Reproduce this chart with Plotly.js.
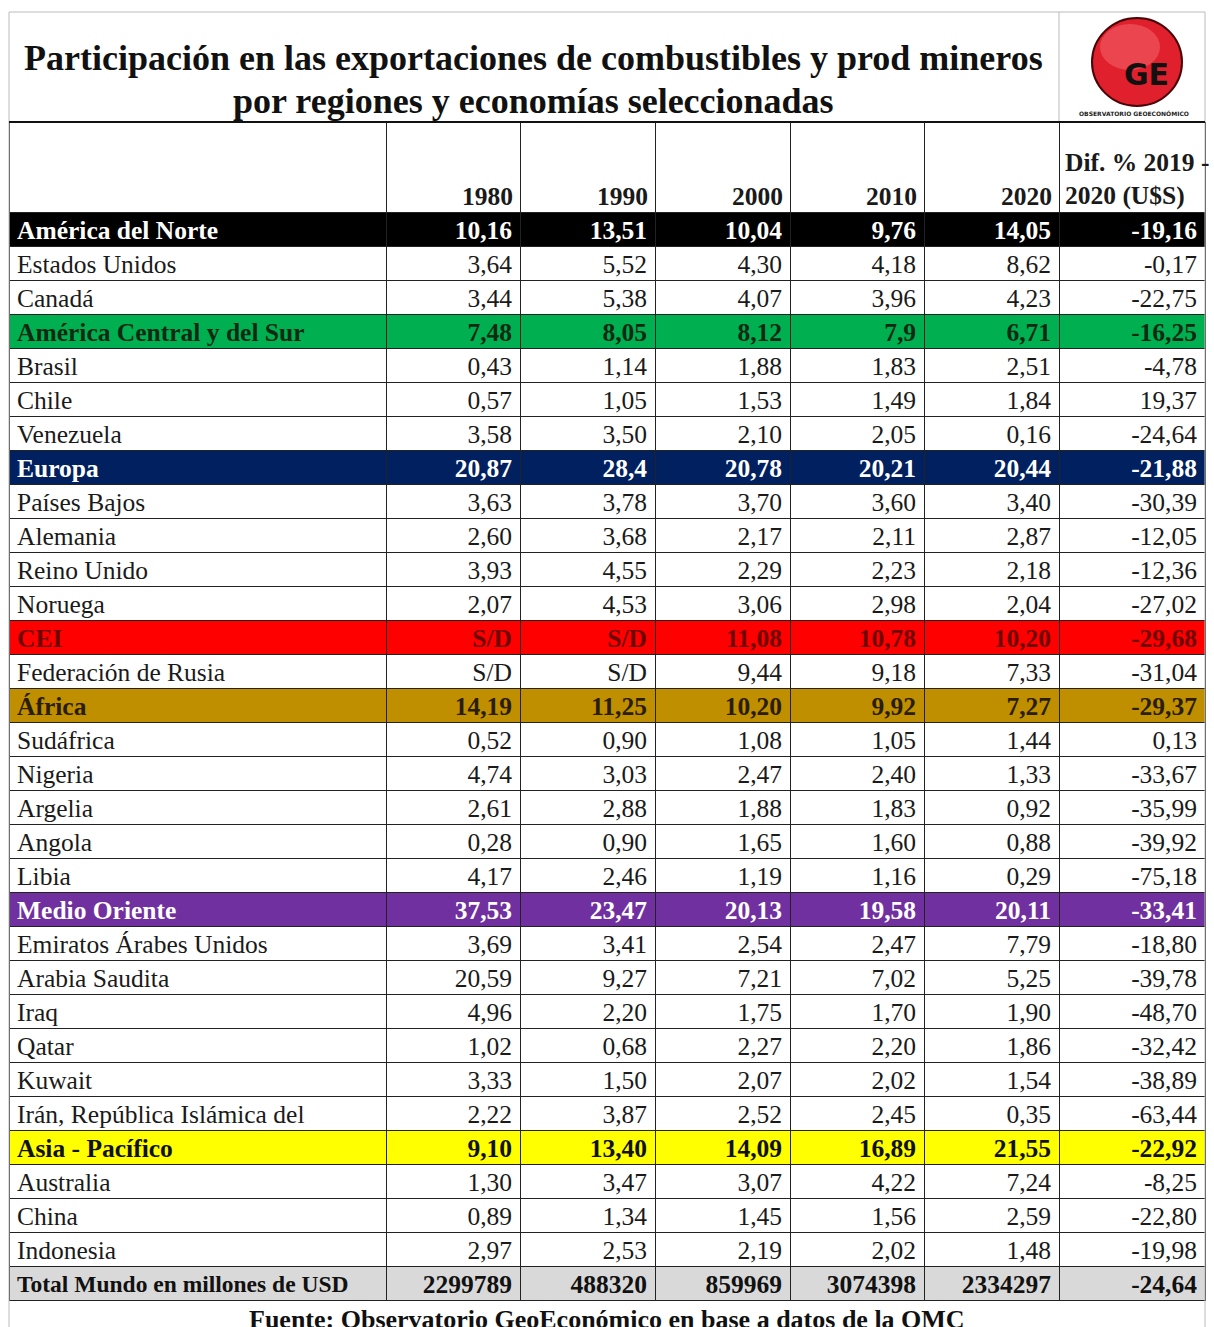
<!DOCTYPE html>
<html>
<head>
<meta charset="utf-8">
<script src="https://cdn.plot.ly/plotly-3.0.1.min.js"></script>
<style>html,body{margin:0;padding:0;background:#fff;}#chart{width:1214px;height:1327px;}</style>
</head>
<body>
<div id="chart"></div>
<script>
// ---------- DATA ----------
const years = ["1980", "1990", "2000", "2010", "2020"];
const difHeader = ["Dif. % 2019 -", "2020 (U$S)"];
const labels = ["América del Norte","Estados Unidos","Canadá","América Central y del Sur","Brasil","Chile","Venezuela","Europa","Países Bajos","Alemania","Reino Unido","Noruega","CEI","Federación de Rusia","África","Sudáfrica","Nigeria","Argelia","Angola","Libia","Medio Oriente","Emiratos Árabes Unidos","Arabia Saudita","Iraq","Qatar","Kuwait","Irán, República Islámica del","Asia - Pacífico","Australia","China","Indonesia","Total Mundo en millones de USD"];
const v1980 = ["10,16","3,64","3,44","7,48","0,43","0,57","3,58","20,87","3,63","2,60","3,93","2,07","S/D","S/D","14,19","0,52","4,74","2,61","0,28","4,17","37,53","3,69","20,59","4,96","1,02","3,33","2,22","9,10","1,30","0,89","2,97","2299789"];
const v1990 = ["13,51","5,52","5,38","8,05","1,14","1,05","3,50","28,4","3,78","3,68","4,55","4,53","S/D","S/D","11,25","0,90","3,03","2,88","0,90","2,46","23,47","3,41","9,27","2,20","0,68","1,50","3,87","13,40","3,47","1,34","2,53","488320"];
const v2000 = ["10,04","4,30","4,07","8,12","1,88","1,53","2,10","20,78","3,70","2,17","2,29","3,06","11,08","9,44","10,20","1,08","2,47","1,88","1,65","1,19","20,13","2,54","7,21","1,75","2,27","2,07","2,52","14,09","3,07","1,45","2,19","859969"];
const v2010 = ["9,76","4,18","3,96","7,9","1,83","1,49","2,05","20,21","3,60","2,11","2,23","2,98","10,78","9,18","9,92","1,05","2,40","1,83","1,60","1,16","19,58","2,47","7,02","1,70","2,20","2,02","2,45","16,89","4,22","1,56","2,02","3074398"];
const v2020 = ["14,05","8,62","4,23","6,71","2,51","1,84","0,16","20,44","3,40","2,87","2,18","2,04","10,20","7,33","7,27","1,44","1,33","0,92","0,88","0,29","20,11","7,79","5,25","1,90","1,86","1,54","0,35","21,55","7,24","2,59","1,48","2334297"];
const dif = ["-19,16","-0,17","-22,75","-16,25","-4,78","19,37","-24,64","-21,88","-30,39","-12,05","-12,36","-27,02","-29,68","-31,04","-29,37","0,13","-33,67","-35,99","-39,92","-75,18","-33,41","-18,80","-39,78","-48,70","-32,42","-38,89","-63,44","-22,92","-8,25","-22,80","-19,98","-24,64"];
// row style keys (region rows highlighted)
const rowStyle = ["norte","","","sur","","","","europa","","","","","cei","","africa","","","","","","medio","","","","","","","asia","","","","total"];

// ---------- STYLES ----------
const fills = {norte:"#000000", sur:"#00B050", europa:"#002060", cei:"#FF0000", africa:"#BF8F00", medio:"#7030A0", asia:"#FFFF00", total:"#D9D9D9", "":"#FFFFFF"};
const fontCols = {norte:"#FFFFFF", sur:"#0f2a12", europa:"#FFFFFF", cei:"#6e0000", africa:"#2a1d00", medio:"#FFFFFF", asia:"#111111", total:"#111111", "":"#1a1a1a"};
const serif = "Liberation Serif, Times New Roman, serif";
const FS = 25.5;

const W = 1214, H = 1327;
const px = x => x / W;
const py = y => 1 - y / H;

const colW = [377, 134, 135, 135, 134, 135, 146];
const tableLeft = 9;
const edges = [tableLeft];
colW.forEach(w => edges.push(edges[edges.length - 1] + w));

const columns = [labels, v1980, v1990, v2000, v2010, v2020, dif];
const rowFill = rowStyle.map(k => fills[k]);
const rowFont = rowStyle.map(k => fontCols[k]);
const rowWeight = rowStyle.map(k => k ? "bold" : "normal");
const labelSizes = rowStyle.map(k => k === "total" ? 23.5 : FS);

const trace = {
  type: "table",
  domain: {x: [px(edges[0]), px(edges[edges.length - 1])], y: [0, py(122)]},
  columnwidth: colW,
  header: {
    values: colW.map(() => ""),
    height: 90,
    fill: {color: "#FFFFFF"},
    line: {color: "#222222", width: 1},
    font: {family: serif, size: FS, color: "#1a1a1a", weight: "bold"}
  },
  cells: {
    values: columns,
    align: ["left", "right", "right", "right", "right", "right", "right"],
    height: 34,
    fill: {color: [rowFill]},
    line: {color: "#222222", width: 1},
    font: {family: serif, size: [labelSizes, FS], color: [rowFont], weight: [rowWeight]}
  }
};

const shapes = [
  {type: "line", xref: "paper", yref: "paper", x0: px(9), x1: px(1205), y0: py(12), y1: py(12), line: {color: "#bbbbbb", width: 1}},
  {type: "line", xref: "paper", yref: "paper", x0: px(9), x1: px(9), y0: py(12), y1: py(1327), line: {color: "#bbbbbb", width: 1}},
  {type: "line", xref: "paper", yref: "paper", x0: px(1205), x1: px(1205), y0: py(12), y1: py(1327), line: {color: "#bbbbbb", width: 1}},
  {type: "line", xref: "paper", yref: "paper", x0: px(1059), x1: px(1059), y0: py(12), y1: py(122), line: {color: "#bbbbbb", width: 1}},
  {type: "line", xref: "paper", yref: "paper", x0: px(9), x1: px(1205), y0: py(122), y1: py(122), line: {color: "#111111", width: 2}},
  {type: "circle", xref: "paper", yref: "paper", x0: px(1092), x1: px(1182), y0: py(18), y1: py(106), fillcolor: "#E0202C", line: {color: "#4a0508", width: 2}},
  {type: "circle", xref: "paper", yref: "paper", x0: px(1100), x1: px(1160), y0: py(24), y1: py(70), fillcolor: "rgba(255,140,150,0.35)", line: {width: 0}}
];

const annotations = [
  {xref: "paper", yref: "paper", x: px(533), y: py(58), xanchor: "center", yanchor: "middle", showarrow: false,
   text: "<b>Participación en las exportaciones de combustibles y prod mineros</b>", font: {family: serif, size: 36, color: "#111111"}},
  {xref: "paper", yref: "paper", x: px(533), y: py(101), xanchor: "center", yanchor: "middle", showarrow: false,
   text: "<b>por regiones y economías seleccionadas</b>", font: {family: serif, size: 36, color: "#111111"}},
  {xref: "paper", yref: "paper", x: px(1146), y: py(75), xanchor: "center", yanchor: "middle", showarrow: false,
   text: "<b>GE</b>", font: {family: "DejaVu Sans, sans-serif", size: 30, color: "#111111"}},
  {xref: "paper", yref: "paper", x: px(1134), y: py(113), xanchor: "center", yanchor: "middle", showarrow: false,
   text: "<b>OBSERVATORIO GEOECONÓMICO</b>", font: {family: "DejaVu Sans, sans-serif", size: 6, color: "#222222"}},
  {xref: "paper", yref: "paper", x: px(607), y: py(1319), xanchor: "center", yanchor: "middle", showarrow: false,
   text: "<b>Fuente: Observatorio GeoEconómico en base a datos de la OMC</b>", font: {family: serif, size: 26, color: "#111111"}}
];
// header labels: bottom-aligned in the header cells, right-aligned for years
years.forEach((y, i) => {
  annotations.push({xref: "paper", yref: "paper", x: px(edges[i + 2] - 5), y: py(196), xanchor: "right", yanchor: "middle",
    showarrow: false, text: "<b>" + y + "</b>", font: {family: serif, size: FS, color: "#1a1a1a"}});
});
annotations.push({xref: "paper", yref: "paper", x: px(edges[6] + 4), y: py(179), xanchor: "left", yanchor: "middle", align: "left",
  showarrow: false, text: difHeader.map(s => "<b>" + s + "</b>").join("<br>"), font: {family: serif, size: FS, color: "#1a1a1a"}});

const layout = {
  width: W, height: H,
  margin: {l: 0, r: 0, t: 0, b: 0},
  paper_bgcolor: "#FFFFFF",
  shapes: shapes,
  annotations: annotations,
  showlegend: false
};

Plotly.newPlot("chart", [trace], layout, {displayModeBar: false, staticPlot: true});
</script>
</body>
</html>
